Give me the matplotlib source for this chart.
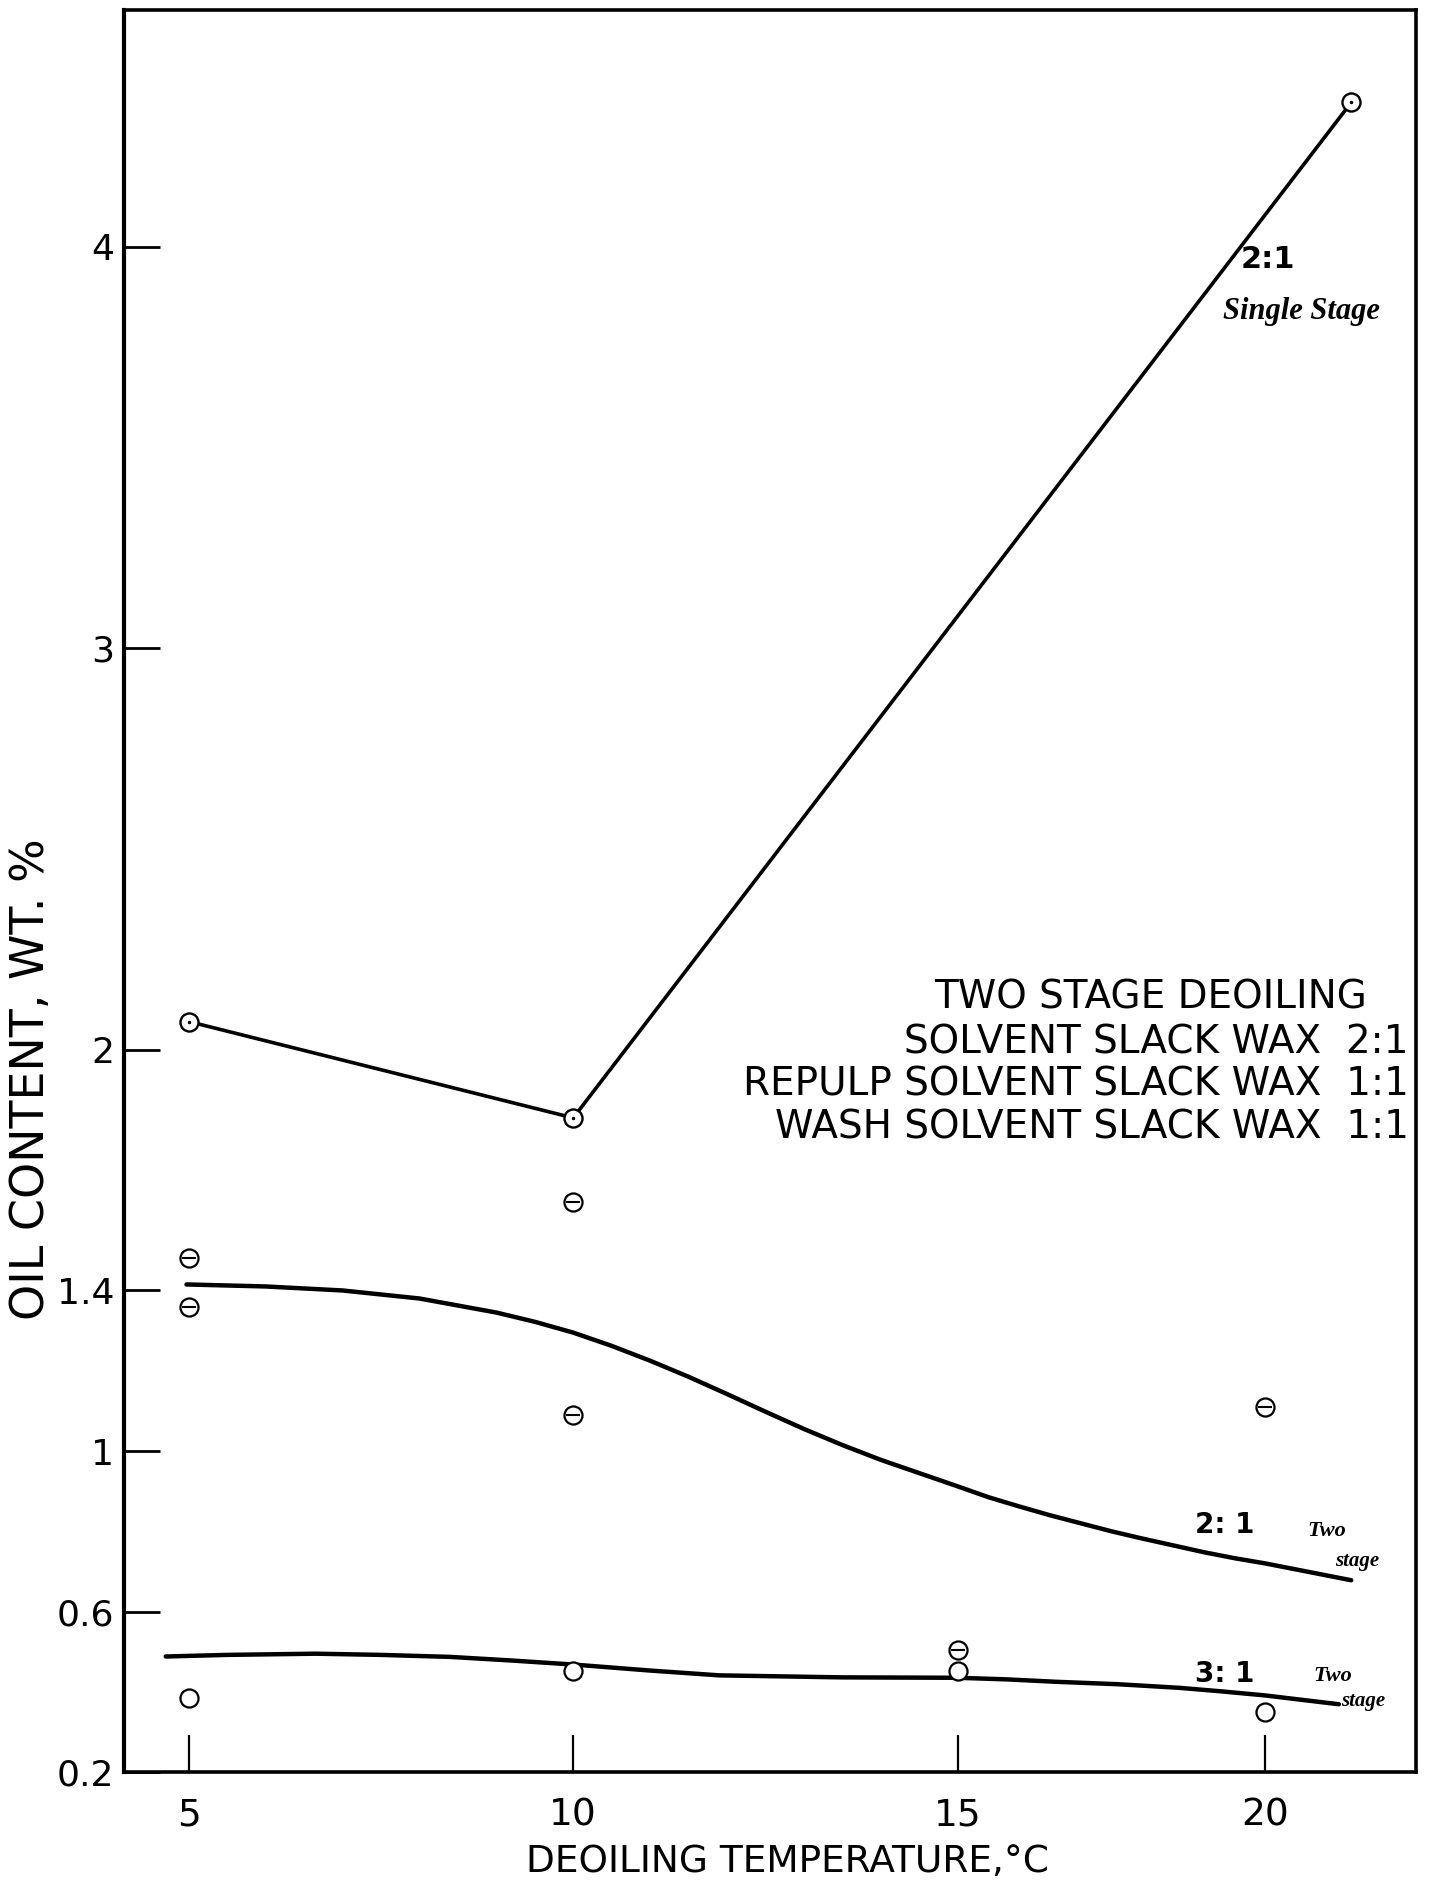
import numpy as np
import matplotlib.pyplot as plt

# oil content of deoiled wax vs deoiling temperature
single_t = [5, 10, 21.4]
single_oil = [2.07, 1.83, 4.36]

# 2:1 two stage, hand drawn curve
two21_t = [4.97, 6, 7, 8, 9, 9.5, 10, 10.5, 11, 11.5, 12, 12.5, 13, 13.5, 14, 14.5,
           15, 15.5, 16, 16.5, 17, 17.5, 18, 18.5, 19, 19.5, 20, 20.5, 21, 21.4]
two21_oil = [1.415, 1.41, 1.40, 1.38, 1.345, 1.322, 1.295, 1.262, 1.225, 1.185, 1.142,
             1.098, 1.055, 1.015, 0.978, 0.945, 0.912, 0.885, 0.862, 0.840, 0.820,
             0.800, 0.782, 0.765, 0.748, 0.733, 0.720, 0.705, 0.690, 0.678]

# 3:1 two stage, hand drawn curve
two31_t = [4.7, 5.5, 6.65, 7.5, 8.4, 9.2, 10.0, 11.0, 11.9, 13.5, 15.0, 15.8, 16.6,
           17.6, 18.6, 19.3, 20.0, 20.6, 21.2]
two31_oil = [0.488, 0.492, 0.495, 0.492, 0.487, 0.478, 0.468, 0.453, 0.441, 0.436,
             0.435, 0.431, 0.425, 0.419, 0.410, 0.401, 0.391, 0.380, 0.369]

# measured points
theta_t = [5, 5, 10, 10, 20, 15]
theta_oil = [1.48, 1.36, 1.62, 1.09, 1.11, 0.505]
open_t = [5, 10, 15, 20]
open_oil = [0.385, 0.452, 0.452, 0.350]

xticks = [5, 10, 15, 20]
yticks = [0.2, 0.6, 1, 1.4, 2, 3, 4]
ylabels = ['0.2', '0.6', '1', '1.4', '2', '3', '4']

notes = ['TWO STAGE DEOILING',
         'SOLVENT SLACK WAX  2:1',
         'REPULP SOLVENT SLACK WAX  1:1',
         'WASH SOLVENT SLACK WAX  1:1']

# the original draws the 15-20 span shorter than the others
SQUASH = 0.8


def fwd(t):
    t = np.asarray(t, dtype=float)
    return np.where(t <= 15, t, 15 + (t - 15) * SQUASH)


def inv(u):
    u = np.asarray(u, dtype=float)
    return np.where(u <= 15, u, 15 + (u - 15) / SQUASH)


plt.rcParams['font.family'] = ['DejaVu Sans']

fig = plt.figure(figsize=(14.4, 18.84), dpi=100)
ax = fig.add_axes([0.086, 0.0594, 0.8972, 0.9352])
ax.set_xscale('function', functions=(fwd, inv))

ax.plot(single_t, single_oil, color='black', lw=2.6, zorder=2)
ax.plot(single_t, single_oil, 'o', ms=13, mfc='white', mec='black', mew=1.7, zorder=3)
ax.plot(single_t, single_oil, '.', ms=3, color='black', zorder=4)

ax.plot(two21_t, two21_oil, color='black', lw=3.2, solid_capstyle='round',
        solid_joinstyle='round', zorder=2)
ax.plot(two31_t, two31_oil, color='black', lw=3.2, solid_capstyle='round',
        solid_joinstyle='round', zorder=2)

ax.plot(theta_t, theta_oil, 'o', ms=13, mfc='white', mec='black', mew=1.6, zorder=3)
ax.plot(theta_t, theta_oil, '_', ms=10, color='black', mew=1.5, zorder=4)
ax.plot(open_t, open_oil, 'o', ms=13, mfc='white', mec='black', mew=1.6, zorder=3)

ax.set_xlim(4.155, 22.45)
ax.set_ylim(0.2, 4.59)
ax.set_xticks(xticks)
ax.set_xticklabels([str(t) for t in xticks])
ax.set_yticks(yticks)
ax.set_yticklabels(ylabels)
ax.minorticks_off()
ax.tick_params(axis='x', direction='in', length=27, width=1.6, labelsize=27, pad=18)
ax.tick_params(axis='y', direction='in', length=26, width=2, labelsize=26, pad=7)

for side in ['top', 'right', 'bottom']:
    ax.spines[side].set_linewidth(2.6)
ax.spines['left'].set_linewidth(3)

ax.set_xlabel('DEOILING TEMPERATURE,°C', fontsize=27, va='top')
ax.xaxis.set_label_coords(0.514, -0.041)
ax.set_ylabel('OIL CONTENT, WT. %', fontsize=33)
ax.yaxis.set_label_coords(-0.054, 0.393)

# legend-like note block
ax.text(0.962, 0.4394, notes[0], transform=ax.transAxes, ha='right', va='center', fontsize=28)
for i, line in enumerate(notes[1:]):
    ax.text(0.9946, 0.4143 - i * 0.0243, line, transform=ax.transAxes,
            ha='right', va='center', fontsize=28)

# hand written curve labels
hand = dict(family='Liberation Serif', style='italic', fontweight='bold', color='black')
ax.text(19.6, 3.97, '2:1', ha='left', va='center', fontsize=22, fontweight='bold')
ax.text(20.59, 3.84, 'Single Stage', ha='center', va='center', fontsize=22, **hand)
ax.text(19.35, 0.815, '2: 1', ha='center', va='center', fontsize=20, fontweight='bold')
ax.text(21.0, 0.80, 'Two', ha='center', va='center', fontsize=16, **hand)
ax.text(21.5, 0.725, 'stage', ha='center', va='center', fontsize=15, **hand)
ax.text(19.35, 0.445, '3: 1', ha='center', va='center', fontsize=20, fontweight='bold')
ax.text(21.1, 0.44, 'Two', ha='center', va='center', fontsize=16, **hand)
ax.text(21.6, 0.378, 'stage', ha='center', va='center', fontsize=15, **hand)

fig.savefig('out.png', dpi=100, facecolor='white')
